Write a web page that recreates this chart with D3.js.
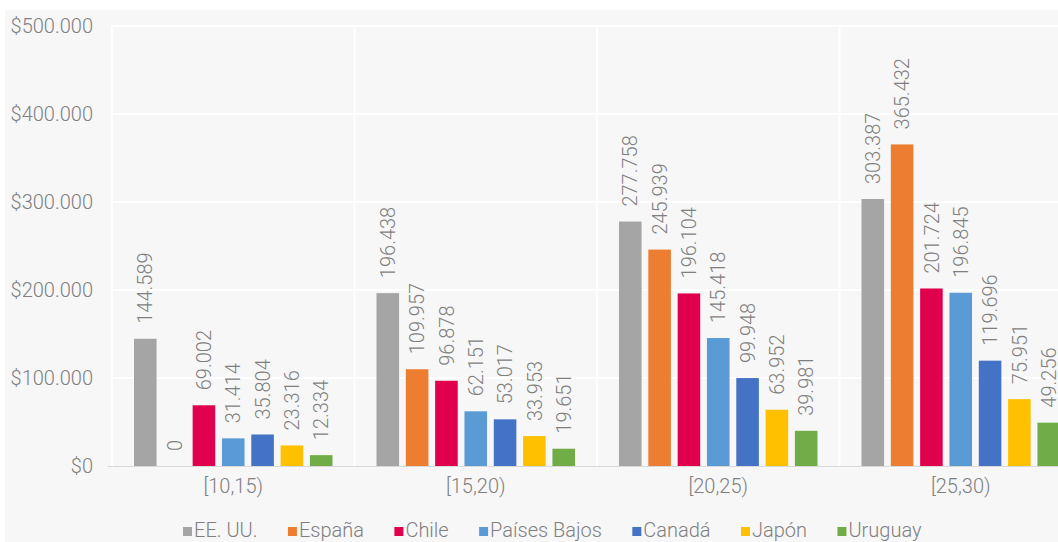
<!DOCTYPE html>
<html><head><meta charset="utf-8">
<script src="https://cdn.jsdelivr.net/npm/d3@7"></script>
<style>
html,body{margin:0;padding:0;background:#fff;}
svg{display:block;font-family:Roboto,"Liberation Sans",sans-serif;font-weight:300;}
</style></head>
<body><svg id="c" width="1058" height="542"></svg>
<script>
const categories = ["[10,15)", "[15,20)", "[20,25)", "[25,30)"];
const seriesNames = ["EE. UU.", "España", "Chile", "Países Bajos", "Canadá", "Japón", "Uruguay"];
const colors = ["#A5A5A5", "#ED7D31", "#E0004D", "#5B9BD5", "#4472C4", "#FFC000", "#70AD47"];
const eeuu       = [144589, 196438, 277758, 303387];
const espana     = [0, 109957, 245939, 365432];
const chile      = [69002, 96878, 196104, 201724];
const paisesBajos= [31414, 62151, 145418, 196845];
const canada     = [35804, 53017, 99948, 119696];
const japon      = [23316, 33953, 63952, 75951];
const uruguay    = [12334, 19651, 39981, 49256];
const seriesValues = [eeuu, espana, chile, paisesBajos, canada, japon, uruguay];
const yTicks = [0, 100000, 200000, 300000, 400000, 500000];

const loc = d3.formatLocale({decimal: ",", thousands: ".", grouping: [3], currency: ["$", ""]});
const fmtVal = loc.format(",d");
const fmtTick = loc.format("$,d");

const svg = d3.select("#c");
const W = 1058, H = 542;
const pLeft = 112, pRight = 1082, pTop = 26, pBottom = 466;

svg.append("rect").attr("x", 5).attr("y", 10).attr("width", W - 5).attr("height", H - 10).attr("fill", "#F7F7F7");

const y = d3.scaleLinear().domain([0, 500000]).range([pBottom, pTop]);
const x0 = d3.scaleBand().domain(categories).range([pLeft, pRight]).padding(0);
const x1 = d3.scaleBand().domain(seriesNames).range([22, x0.bandwidth() - 22]).paddingInner(0.23).paddingOuter(0);

svg.append("g").selectAll("line").data(yTicks.filter(d => d > 0)).join("line")
  .attr("x1", pLeft).attr("x2", W).attr("y1", d => y(d)).attr("y2", d => y(d))
  .attr("stroke", "#FFFFFF").attr("stroke-width", 2);
const vlines = [pLeft].concat(categories.slice(1).map(c => x0(c)));
svg.append("g").selectAll("line").data(vlines).join("line")
  .attr("x1", d => d).attr("x2", d => d).attr("y1", pTop).attr("y2", pBottom)
  .attr("stroke", "#FFFFFF").attr("stroke-width", 2);

const yAxis = d3.axisLeft(y).tickValues(yTicks).tickFormat(fmtTick).tickSize(0).tickPadding(0);
const gy = svg.append("g").attr("transform", `translate(93,0)`).call(yAxis);
gy.select(".domain").remove();
gy.selectAll("text").attr("fill", "#808080").style("font-size", "20px").style("font-family", "Roboto,'Liberation Sans',sans-serif").style("font-weight", 300);

const groups = svg.append("g").selectAll("g").data(categories).join("g")
  .attr("transform", d => `translate(${x0(d)},0)`);
groups.each(function(cat, ci) {
  const g = d3.select(this);
  const data = seriesNames.map((s, si) => ({s, si, v: seriesValues[si][ci]}));
  g.selectAll("rect").data(data).join("rect")
    .attr("x", d => x1(d.s)).attr("width", x1.bandwidth())
    .attr("y", d => y(d.v)).attr("height", d => pBottom - y(d.v))
    .attr("fill", d => colors[d.si]);
  g.selectAll("text").data(data).join("text")
    .attr("transform", d => `translate(${x1(d.s) + x1.bandwidth() / 2},${y(d.v) - 15}) rotate(-90)`)
    .attr("text-anchor", "start").attr("dy", "0.36em")
    .attr("fill", "#7F7F7F").style("font-size", "20px")
    .text(d => fmtVal(d.v));
});

svg.append("line").attr("x1", 108).attr("x2", W).attr("y1", pBottom + 0.5).attr("y2", pBottom + 0.5)
  .attr("stroke", "#D9D9D9").attr("stroke-width", 1);
const xAxis = d3.axisBottom(x0).tickSize(0).tickPadding(0);
const gx = svg.append("g").attr("transform", `translate(0,${pBottom + 12})`).call(xAxis);
gx.select(".domain").remove();
gx.selectAll("text").attr("fill", "#808080").attr("dy", "0.75em").style("font-size", "20px").style("font-family", "Roboto,'Liberation Sans',sans-serif").style("font-weight", 300);

const legStart = 183, legEnd = 922, legY = 530;
const leg = svg.append("g");
const items = leg.selectAll("g").data(seriesNames).join("g");
items.append("rect").attr("width", 9).attr("height", 9).attr("y", -3).attr("fill", (d, i) => colors[i]);
items.append("text").attr("x", 11).attr("y", 0).attr("dy", "0.35em")
  .attr("fill", "#7F7F7F").style("font-size", "20px").text(d => d);
const widths = [];
items.each(function() { widths.push(this.getBBox().width); });
const total = d3.sum(widths);
const gap = (legEnd - legStart - total) / (seriesNames.length - 1);
let cx = legStart;
items.each(function(d, i) { d3.select(this).attr("transform", `translate(${cx},${legY})`); cx += widths[i] + gap; });
</script></body></html>
